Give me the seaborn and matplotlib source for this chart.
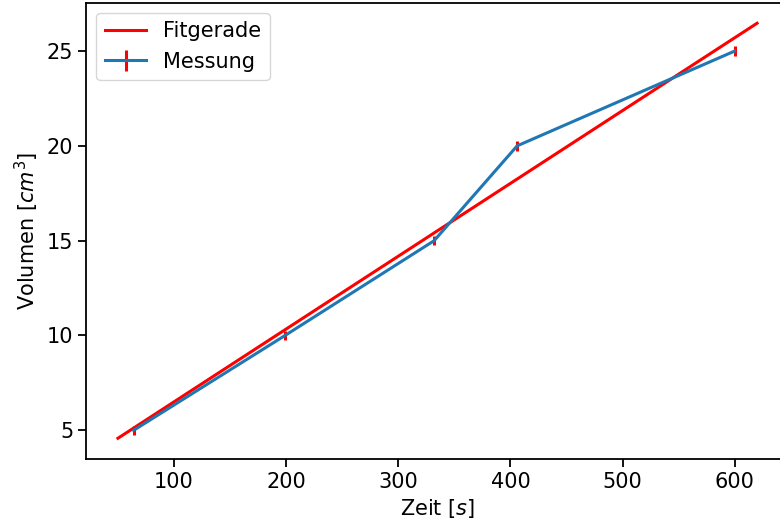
import numpy as np
import pandas as pd
import matplotlib
matplotlib.use("Agg")
import matplotlib.pyplot as plt
import seaborn as sns

# Messwerte
zeit = [64, 199, 332, 406, 600]          # s
volumen = [5, 10, 15, 20, 25]            # cm^3
volumen_err = [0.25, 0.25, 0.25, 0.25, 0.25]

# Fitgerade V = m * t + b
fit_m = 0.0384
fit_b = 2.66
fit_t = [50, 620]

fit = pd.DataFrame({"t": fit_t})
fit["V"] = fit_m * fit["t"] + fit_b

fig = plt.figure(figsize=(7.8, 5.29), dpi=100)
ax = fig.add_axes([86 / 780, 1 - 459 / 529, 703 / 780, 456.5 / 529])

sns.lineplot(data=fit, x="t", y="V", color="red", linewidth=2.2, label="Fitgerade", ax=ax)
ax.errorbar(zeit, volumen, yerr=volumen_err, ecolor="red", color="C0",
            linewidth=2.2, elinewidth=2.2, label="Messung")

ax.set_xlabel("Zeit [$s$]", fontsize=15)
ax.set_ylabel("Volumen [$cm^3$]", fontsize=15)
ax.tick_params(labelsize=15, width=1.3, length=5.5)
for s in ax.spines.values():
    s.set_linewidth(1.3)
ax.legend(loc="upper left", fontsize=15)

fig.savefig("out.png", dpi=100)
